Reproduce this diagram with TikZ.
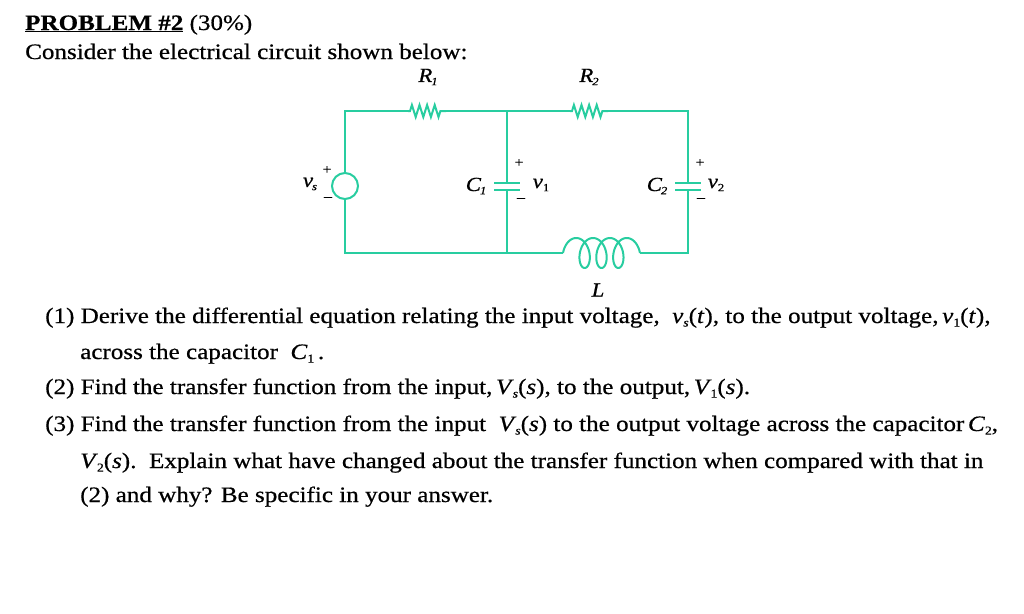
\documentclass[tikz,border=0pt]{standalone}
\usepackage{fontspec}
\setmainfont[FakeStretch=1.14,FakeBold=0.6]{Liberation Serif}
\usetikzlibrary{decorations.pathmorphing}
\definecolor{wire}{RGB}{40,205,160}
\newcommand{\sbs}[1]{\raisebox{-0.35ex}{\fontsize{12}{12}\selectfont #1}}
\newcommand{\csb}[1]{\raisebox{-0.35ex}{\fontsize{11}{11}\selectfont #1}}
\begin{document}
\begin{tikzpicture}[x=1pt,y=-1pt,
  w/.style={draw=wire,line width=2pt},
  txt/.style={anchor=base west,inner sep=0pt,font=\fontsize{22}{24}\selectfont},
  lab/.style={inner sep=0pt,font=\fontsize{20}{20}\selectfont\itshape},
  pm/.style={inner sep=0pt,font=\fontsize{14}{14}\selectfont}]
\useasboundingbox (0,0) rectangle (1024,613);
\coordinate (tl) at (345,111); \coordinate (tm) at (507,111); \coordinate (tr) at (688,111);
\coordinate (bl) at (345,253); \coordinate (bm) at (507,253); \coordinate (br) at (688,253);
\coordinate (r1a) at (408,111); \coordinate (r1b) at (446,111);
\coordinate (r2a) at (570,111); \coordinate (r2b) at (608,111);
\coordinate (la) at (563,253); \coordinate (lb) at (640,253);
\node[circle,w,minimum size=26pt,inner sep=0pt] (src) at (345,186) {};
\draw[w] (src.north) -- (tl) -- (r1a);
\draw[w,decorate,decoration={zigzag,segment length=7.6pt,amplitude=6pt,pre length=2pt,post length=2pt}] (r1a) -- (r1b);
\draw[w] (r1b) -- (tm) -- (r2a);
\draw[w,decorate,decoration={zigzag,segment length=7.6pt,amplitude=6pt,pre length=2pt,post length=2pt}] (r2a) -- (r2b);
\draw[w] (r2b) -- (tr) -- (688,183);
\draw[w] (688,190) -- (br) -- (lb);
\draw[w] (la) -- (bm) -- (bl) -- (src.south);
\draw[w] (tm) -- (507,183); \draw[w] (507,190) -- (bm);
\draw[w] (494,183) -- (520,183); \draw[w] (494,190) -- (520,190);
\draw[w] (675,183) -- (701,183); \draw[w] (675,190) -- (701,190);
% inductor
\draw[w] plot[domain=pi/2:7.5*pi,samples=260,variable=\t] ({567.8+2.68*\t-9*sin(\t r)},{253+15*cos(\t r)});
% labels
\node[lab] (lr1) at (428,77) {R\kern-1pt\csb{1}};
\node[lab] (lr2) at (589,77) {R\kern-1pt\csb{2}};
\node[lab] (ll) at (598,290) {L};
\node[lab] (lvs) at (310,184) {v\kern-1pt\csb{\itshape s}};
\node[pm] (p0) at (327,170) {+}; \node[pm] (m0) at (328,199) {--};
\node[lab] (lc1) at (476,186) {C\kern-1pt\csb{1}};
\node[lab] (lv1) at (541,185) {v\csb{\upshape 1}};
\node[pm] (p1) at (519,163) {+}; \node[pm] (m1) at (521,200) {--};
\node[lab] (lc2) at (657,186) {C\kern-1pt\csb{2}};
\node[lab] (lv2) at (716,185) {v\csb{\upshape 2}};
\node[pm] (p2) at (700,163) {+}; \node[pm] (m2) at (701,200) {--};
% text
\node[txt] (t0) at (25,30) {\textbf{\underline{PROBLEM \#2}} (30\%)};
\node[txt] (t1) at (25,59) {Consider the electrical circuit shown below:};
\node[txt] (t2) at (45,323) {(1) Derive the differential equation relating the input voltage,\ \ \textit{v}\sbs{\itshape s}(\textit{t}), to the output voltage,\,\textit{v}\sbs{1}(\textit{t}),};
\node[txt] (t3) at (80,359) {across the capacitor\ \ \textit{C}\sbs{1}\,.};
\node[txt] (t4) at (45,394) {(2) Find the transfer function from the input,\,\textit{V}\kern-1pt\sbs{\itshape s}(\textit{s}), to the output,\,\textit{V}\kern-1pt\sbs{1}(\textit{s}).};
\node[txt] (t5) at (45,431) {(3) Find the transfer function from the input\ \ \textit{V}\kern-1pt\sbs{\itshape s}(\textit{s}) to the output voltage across the capacitor\,\textit{C}\sbs{2},};
\node[txt] (t6) at (80,468) {\textit{V}\kern-1pt\sbs{2}(\textit{s}).\ \ Explain what have changed about the transfer function when compared with that in};
\node[txt] (t7) at (80,502) {(2) and why? Be specific in your answer.};
\end{tikzpicture}
\end{document}
